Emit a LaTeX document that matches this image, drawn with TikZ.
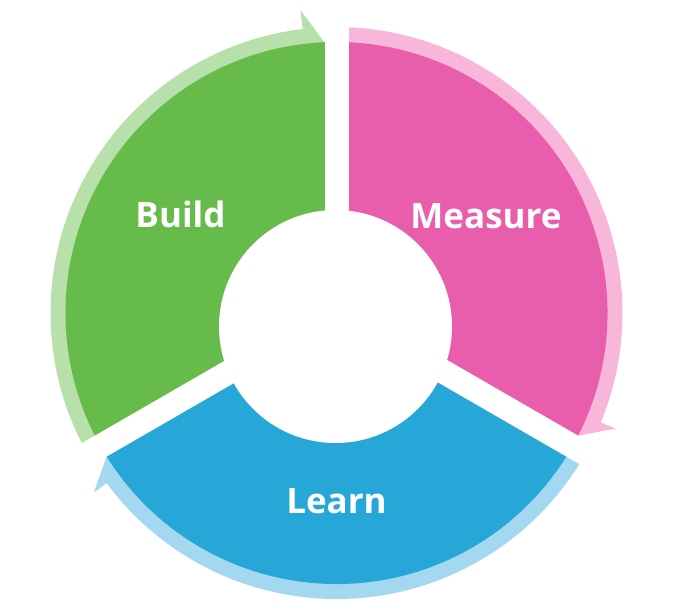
\documentclass[tikz,border=0pt]{standalone}
\usepackage{fontspec}
\setmainfont{Open Sans}
\usetikzlibrary{calc}
\definecolor{gdark}{RGB}{102,187,74}
\definecolor{glight}{RGB}{184,224,170}
\definecolor{pdark}{RGB}{233,94,172}
\definecolor{plight}{RGB}{248,183,218}
\definecolor{bdark}{RGB}{38,167,216}
\definecolor{blight}{RGB}{164,216,241}
\tikzset{
  lbl/.style={text=white, font=\fontsize{35}{42}\selectfont\bfseries, inner sep=0pt, anchor=base},
  gapstrip/.style={fill=white},
}
\begin{document}
\begin{tikzpicture}[x=1pt,y=1pt]
\useasboundingbox (0,0) rectangle (685,608);
\coordinate (C) at (336.5,295);
\coordinate (G) at (336.5,298);
\coordinate (H) at (335.5,281.5);
\begin{scope}[shift={(C)}]
  % light bands with arrowheads
  \fill[glight] (210:286) arc[start angle=210,end angle=96.8,radius=286]
     -- (96.8:305) -- (92.54:271) -- (92.54:250)
     arc[start angle=92.54,end angle=210,radius=250] -- cycle;
  \fill[plight] (90:286) arc[start angle=90,end angle=-22.5,radius=286]
     -- (-22.5:302) -- (-26.9:271) -- (-26.9:250)
     arc[start angle=-26.9,end angle=90,radius=250] -- cycle;
  \fill[blight] (330:286) arc[start angle=330,end angle=216.5,radius=286]
     -- (216.5:302) -- (212.0:271) -- (212.0:250)
     arc[start angle=212.0,end angle=330,radius=250] -- cycle;
  % dark sectors
  \fill[gdark] (0,0) -- (90:271) arc[start angle=90,end angle=210,radius=271] -- cycle;
  \fill[pdark] (0,0) -- (-30:271) arc[start angle=-30,end angle=90,radius=271] -- cycle;
  \fill[bdark] (0,0) -- (210:271) arc[start angle=210,end angle=330,radius=271] -- cycle;
\end{scope}
% gaps between segments
\foreach \a in {90,210,330}{
  \fill[gapstrip, rotate around={\a:(G)}] ($(G)+(0,-12)$) rectangle ($(G)+(330,12)$);
}
% central hole
\fill[white] (H) circle[radius=116.5];
% labels
\node[lbl] (build) at (180.5,380) {Build};
\node[lbl] (measure) at (486,379) {Measure};
\node[lbl] (learn) at (336.5,95) {Learn};
\end{tikzpicture}
\end{document}
